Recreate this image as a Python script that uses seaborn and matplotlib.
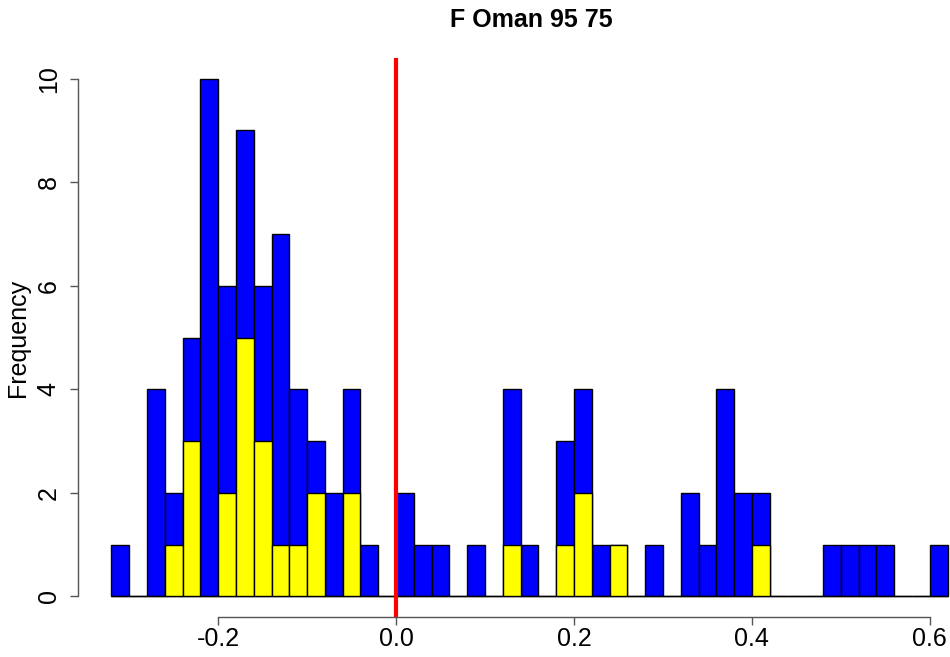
import numpy as np
import pandas as pd
import matplotlib
matplotlib.use('Agg')
import matplotlib.pyplot as plt
import seaborn as sns

# bin edges -0.32 .. 0.62, width 0.02 (47 bins)
bin_edges = [round(-0.32 + 0.02 * i, 2) for i in range(48)]

# counts per bin (left to right)
blue_counts = [1, 0, 4, 2, 5, 10, 6, 9, 6, 7, 4, 3, 2, 4, 1, 0,
               2, 1, 1, 0, 1, 0, 4, 1, 0, 3, 4, 1, 1, 0, 1, 0,
               2, 1, 4, 2, 2, 0, 0, 0, 1, 1, 1, 1, 0, 0, 1]
yellow_counts = [0, 0, 0, 1, 3, 0, 2, 5, 3, 1, 1, 2, 0, 2, 0, 0,
                 0, 0, 0, 0, 0, 0, 1, 0, 0, 1, 2, 0, 1, 0, 0, 0,
                 0, 0, 0, 0, 1, 0, 0, 0, 0, 0, 0, 0, 0, 0, 0]

title = "F Oman 95 75"

centers = [(bin_edges[i] + bin_edges[i + 1]) / 2 for i in range(len(bin_edges) - 1)]
df = pd.DataFrame({'x': centers, 'blue': blue_counts, 'yellow': yellow_counts})

sns.set_theme(style="white")
plt.rcParams['font.family'] = ['Liberation Sans', 'DejaVu Sans']

fig = plt.figure(figsize=(9.5, 6.57), dpi=100)
ax = fig.add_axes([78 / 950, 40 / 657, 903 / 950, 559 / 657])

sns.histplot(data=df, x='x', weights='blue', bins=bin_edges, color='blue',
             edgecolor='black', linewidth=1, alpha=1, ax=ax)
sns.histplot(data=df, x='x', weights='yellow', bins=bin_edges, color='yellow',
             edgecolor='black', linewidth=1, alpha=1, ax=ax)
ax.axvline(0, color='red', linewidth=3)

ax.set_xlim(-0.3576, 0.6576)
ax.set_ylim(-0.4, 10.4)
ax.set_xticks([-0.2, 0.0, 0.2, 0.4, 0.6])
ax.set_xticklabels(['-0.2', '0.0', '0.2', '0.4', '0.6'])
ax.set_yticks([0, 2, 4, 6, 8, 10])
ax.set_yticklabels(['0', '2', '4', '6', '8', '10'], rotation=90, va='center')
ax.set_xlabel('')
ax.set_ylabel('')

for s in ['top', 'right']:
    ax.spines[s].set_visible(False)
ax.spines['left'].set_bounds(0, 10)
ax.spines['bottom'].set_bounds(-0.2, 0.6)
for s in ['left', 'bottom']:
    ax.spines[s].set_color('#555555')
    ax.spines[s].set_linewidth(1)
ax.tick_params(axis='both', direction='out', length=5.5, width=1, color='#555555',
               labelsize=18, labelcolor='black', bottom=True, left=True)
ax.tick_params(axis='x', pad=2)
ax.tick_params(axis='y', pad=7)
ax.grid(False)

fig.text(531 / 950, 1 - 20 / 657, title, ha='center', va='center',
         fontsize=18, fontweight='bold', color='black')
fig.text(18 / 950, 1 - 338 / 657, 'Frequency', ha='center', va='center',
         rotation=90, fontsize=18, color='black')

fig.savefig('out.png', dpi=100, facecolor='white')
